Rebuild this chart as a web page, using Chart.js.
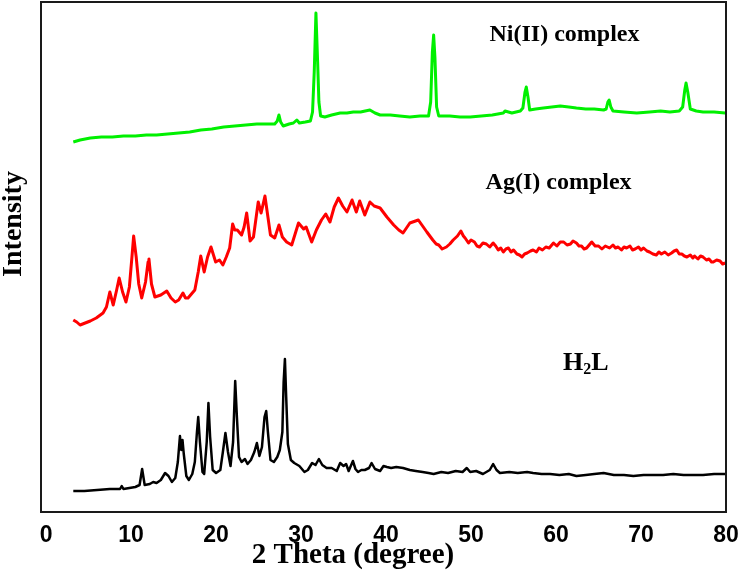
<!DOCTYPE html>
<html>
<head>
<meta charset="utf-8">
<script src="https://cdn.jsdelivr.net/npm/chart.js@4.4.0/dist/chart.umd.min.js"></script>
<style>
  body { margin: 0; background: #fff; }
  #wrap { width: 740px; height: 575px; }
</style>
</head>
<body>
<div id="wrap"><canvas id="xrd" width="740" height="575"></canvas></div>
<script>
// x axis ticks (2 theta, degree)
const xTicks = [0, 10, 20, 30, 40, 50, 60, 70, 80];

// H2L (black, bottom trace)
const h2lTheta = [3.2,4.5,6,7.5,8.7,8.9,9.1,10.5,11.0,11.3,11.6,12.2,12.6,13.0,13.5,14.0,14.4,14.8,15.2,15.5,15.75,15.9,16.05,16.2,16.5,16.8,17.2,17.5,17.75,17.9,18.1,18.4,18.6,18.9,19.1,19.3,19.6,20.0,20.5,20.8,21.1,21.4,21.7,22.0,22.25,22.45,22.7,23.0,23.4,23.7,24.1,24.5,24.8,25.1,25.4,25.7,25.9,26.1,26.4,26.8,27.2,27.5,27.8,27.95,28.1,28.25,28.45,28.8,29.2,29.8,30.4,30.8,31.3,31.7,32.1,32.5,33.0,33.6,34.2,34.6,35.0,35.3,35.6,36.1,36.4,36.7,37.1,37.5,38.0,38.3,38.7,39.3,39.7,40.1,40.6,41.2,42.0,42.8,43.5,44.3,45.0,45.6,46.5,47.3,48.2,49.0,49.5,49.9,50.6,51.4,52.2,52.6,53.0,53.4,54.5,55.5,56.6,57.3,58.3,59.3,60.4,61.5,62.4,63.5,64.5,65.6,66.8,68.0,69.1,70.3,71.5,72.6,73.8,75.0,76.2,77.3,78.6,79.9];
const h2lCounts = [21,21,22,23,23,26,23,25,27,43,27,28,30,29,32,39,36,30,34,50,76,62,72,58,36,32,38,50,80,95,70,40,38,70,109,75,42,39,42,60,79,60,46,70,131,95,55,50,53,48,52,60,69,56,65,95,101,80,52,50,55,62,80,130,153,115,68,52,49,46,40,42,49,47,53,47,44,44,41,49,46,48,41,51,43,40,42,42,44,49,43,41,46,45,44,45,44,42,41,40,39,38,40,39,41,40,44,40,41,38,42,48,42,39,40,39,40,39,38,38,37,38,36,37,38,39,37,37,36,37,37,37,38,37,37,37,38,38];

// Ag(I) complex (red, middle trace)
const agTheta = [3.2,3.6,4.0,4.6,5.2,5.9,6.7,7.1,7.5,7.9,8.3,8.6,9.0,9.4,9.8,10.1,10.3,10.6,10.9,11.25,11.7,12.0,12.1,12.4,12.8,13.5,14.2,14.7,15.2,15.6,16.1,16.4,16.7,17.1,17.5,17.9,18.2,18.6,19.0,19.4,19.95,20.4,20.8,21.2,21.6,21.95,22.2,22.5,23.0,23.3,23.6,24.0,24.4,24.96,25.3,25.75,26.1,26.4,26.9,27.4,27.8,28.3,28.9,29.3,29.7,30.3,30.6,31.25,31.8,32.4,32.9,33.4,33.9,34.4,34.9,35.4,36.0,36.5,36.9,37.5,38.1,38.6,39.3,40.1,40.9,41.5,42.0,42.8,43.8,44.3,44.8,45.5,45.9,46.2,46.6,47.1,47.5,47.9,48.4,48.8,49.1,49.3,49.7,50.0,50.4,50.7,51.0,51.4,51.8,52.2,52.6,52.9,53.2,53.5,53.8,54.1,54.4,54.7,55.0,55.4,55.7,56.0,56.3,56.6,57.0,57.3,57.7,58.0,58.4,58.8,59.2,59.7,60.1,60.5,60.9,61.3,61.7,62.0,62.4,62.7,63.0,63.3,63.6,63.9,64.2,64.6,65.0,65.4,65.8,66.3,66.7,67.0,67.3,67.7,68.0,68.3,68.7,69.0,69.3,69.7,70.0,70.3,70.7,71.0,71.4,71.8,72.1,72.4,72.8,73.2,73.6,73.9,74.2,74.5,74.8,75.1,75.4,75.8,76.1,76.3,76.7,77.0,77.3,77.7,78.0,78.3,78.5,78.9,79.3,79.6,79.9];
const agCounts = [192,190,187,189,191,194,199,205,220,207,222,234,220,210,225,255,276,255,228,214,230,250,253,228,215,217,221,214,210,212,219,214,214,218,222,240,256,240,255,265,250,252,247,255,264,288,282,282,277,285,299,271,275,310,299,316,295,277,274,287,275,270,267,278,289,283,285,270,282,292,298,290,305,314,306,300,312,300,311,297,310,306,304,295,287,282,279,289,292,286,280,272,268,267,263,265,268,272,276,281,276,274,269,272,270,266,265,269,268,265,269,266,262,264,260,263,264,260,262,258,257,255,258,259,261,262,260,264,262,265,264,269,266,270,270,267,268,271,269,266,266,263,264,267,270,266,266,263,266,264,267,264,265,262,265,264,266,262,263,265,262,264,261,260,258,257,260,258,260,257,259,261,262,258,258,256,255,257,254,256,253,256,255,252,253,250,250,252,251,248,249];

// Ni(II) complex (green, top trace)
const niTheta = [3.2,4.0,5.2,6.5,7.8,9.1,10.5,11.8,13.0,14.3,15.6,16.9,18.2,19.5,20.9,22.2,23.5,24.8,26.0,26.9,27.2,27.4,27.6,27.9,28.6,29.1,29.5,29.8,30.5,31.1,31.35,31.55,31.75,31.95,32.1,32.3,32.8,33.6,34.6,35.4,36.15,37.0,38.1,38.7,39.3,40.5,41.6,42.8,44.0,45.0,45.25,45.45,45.6,45.75,45.95,46.2,47.5,48.7,49.9,51.2,52.5,53.8,54.0,54.8,55.8,56.1,56.35,56.5,56.7,56.9,57.6,58.5,59.5,60.5,61.5,62.4,63.5,64.5,65.6,65.9,66.1,66.25,66.45,66.7,68.0,69.5,71.0,72.3,73.4,74.5,74.9,75.15,75.3,75.5,75.8,76.5,77.3,78.6,79.9];
const niCounts = [370,372,374,375,375,376,376,377,377,378,379,380,382,383,385,386,387,388,388,388,391,397,390,386,388,389,392,389,390,391,400,440,499,450,410,396,395,397,399,399,400,400,402,399,397,397,396,395,396,396,410,460,477,455,405,396,396,395,395,396,397,399,401,399,401,404,420,425,415,402,403,404,405,406,405,404,403,403,402,403,410,412,405,401,400,399,400,401,400,401,405,422,429,420,403,401,400,400,399];

// trace labels, placed in data coordinates
const traceLabels = [
  { parts: [['Ni(II) complex', false]], x: 61.0, y: 477 },
  { parts: [['Ag(I) complex', false]], x: 60.3, y: 329 },
  { parts: [['H', false], ['2', true], ['L', false]], x: 63.5, y: 149 }
];

function toPoints(xs, ys) {
  return xs.map((x, i) => ({ x: x, y: ys[i] }));
}

const serif = '"Liberation Serif", "Times New Roman", serif';

const textPlugin = {
  id: 'xrdText',
  afterDraw(chart) {
    const ctx = chart.ctx;
    const area = chart.chartArea;
    const xs = chart.scales.x, ys = chart.scales.y;

    // frame
    ctx.save();
    ctx.strokeStyle = '#1a1a1a';
    ctx.lineWidth = 2;
    ctx.strokeRect(area.left, area.top, area.right - area.left, area.bottom - area.top);
    ctx.restore();

    // trace labels
    ctx.save();
    ctx.fillStyle = '#000';
    ctx.textBaseline = 'middle';
    traceLabels.forEach(lab => {
      const big = lab.parts.length > 1 ? 26 : 24;
      let total = 0;
      lab.parts.forEach(p => {
        ctx.font = 'bold ' + (p[1] ? 16 : big) + 'px ' + serif;
        total += ctx.measureText(p[0]).width;
      });
      let px = xs.getPixelForValue(lab.x) - total / 2;
      const py = ys.getPixelForValue(lab.y);
      ctx.textAlign = 'left';
      lab.parts.forEach(p => {
        ctx.font = 'bold ' + (p[1] ? 16 : big) + 'px ' + serif;
        ctx.fillText(p[0], px, p[1] ? py + 7 : py);
        px += ctx.measureText(p[0]).width;
      });
    });

    // axis titles
    ctx.textAlign = 'center';
    ctx.font = 'bold 29px ' + serif;
    ctx.fillText('2 Theta (degree)', 353, 556);
    ctx.translate(14, 224);
    ctx.rotate(-Math.PI / 2);
    ctx.font = 'bold 28px ' + serif;
    ctx.fillText('Intensity', 0, 0);
    ctx.restore();
  }
};

new Chart(document.getElementById('xrd'), {
  type: 'line',
  data: {
    datasets: [
      { label: 'H2L', data: toPoints(h2lTheta, h2lCounts), borderColor: '#000000', borderWidth: 2.5 },
      { label: 'Ag(I) complex', data: toPoints(agTheta, agCounts), borderColor: '#ff0000', borderWidth: 3 },
      { label: 'Ni(II) complex', data: toPoints(niTheta, niCounts), borderColor: '#00f000', borderWidth: 3 }
    ]
  },
  options: {
    responsive: false,
    animation: false,
    elements: { point: { radius: 0 }, line: { tension: 0, borderJoinStyle: 'round' } },
    layout: { padding: { left: 41, right: 14, top: 2, bottom: 0 } },
    plugins: { legend: { display: false }, tooltip: { enabled: false } },
    scales: {
      x: {
        type: 'linear',
        min: -0.6,
        max: 80,
        grid: { display: false, drawTicks: false },
        border: { display: false },
        afterBuildTicks: s => { s.ticks = xTicks.map(v => ({ value: v })); },
        afterFit: s => { s.height = 63; s.paddingLeft = 0; s.paddingRight = 0; },
        ticks: {
          color: '#000',
          padding: 10,
          maxRotation: 0,
          autoSkip: false,
          font: { family: '"Liberation Sans", Arial, sans-serif', size: 23, weight: 'bold' }
        }
      },
      y: { display: false, min: 0, max: 510 }
    }
  },
  plugins: [textPlugin]
});
</script>
</body>
</html>
